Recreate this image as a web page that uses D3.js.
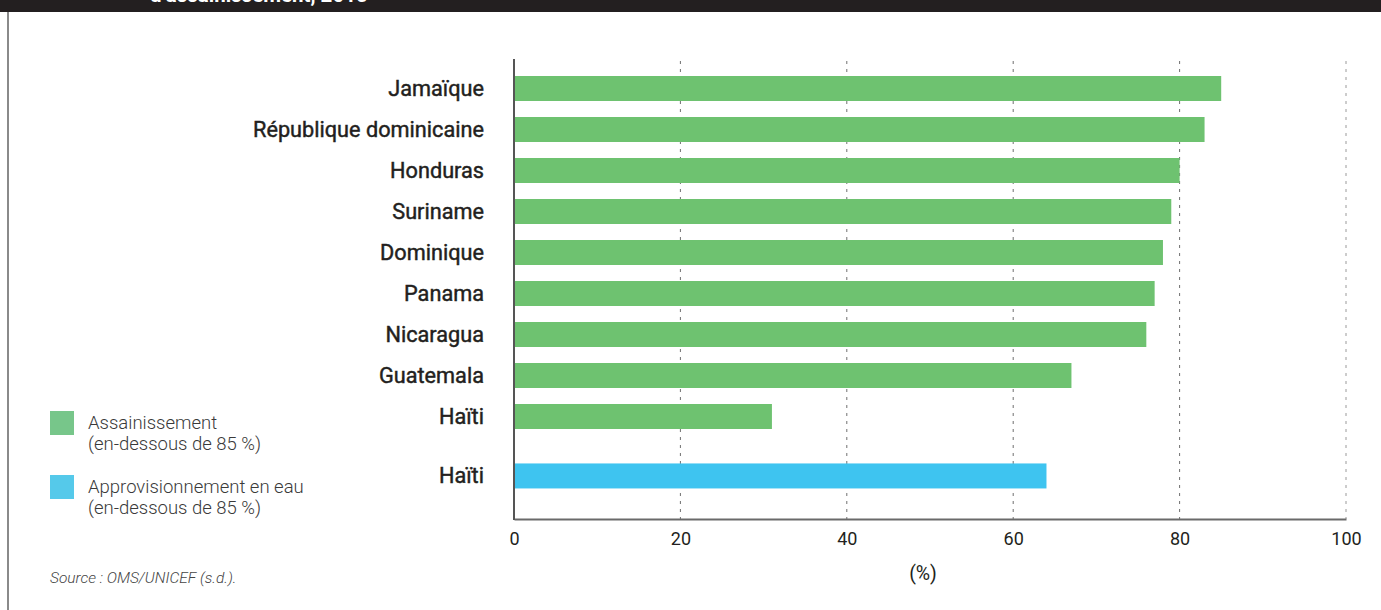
<!DOCTYPE html>
<html><head><meta charset="utf-8">
<script src="https://cdn.jsdelivr.net/npm/d3@7"></script>
<style>
html,body{margin:0;padding:0;background:#fff;}
svg{display:block;font-family:Roboto, "Noto Sans", sans-serif;}
</style></head>
<body>
<svg id="chart" width="1381" height="610"></svg>
<script>
const categories = ["Jamaïque","République dominicaine","Honduras","Suriname","Dominique","Panama","Nicaragua","Guatemala","Haïti","Haïti"];
const values = [85, 83, 80, 79, 78, 77, 76, 67, 31, 64];
const series = ["san","san","san","san","san","san","san","san","san","water"];
const rowIndex = [0,1,2,3,4,5,6,7,8,9.45];
const xTicks = [0,20,40,60,80,100];
const legendItems = [
  {key:"san", lines:["Assainissement","(en-dessous de 85 %)"]},
  {key:"water", lines:["Approvisionnement en eau","(en-dessous de 85 %)"]}
];
const barColors = {san:"#6ec270", water:"#3ec4f0"};
const legendColors = {san:"#77c68a", water:"#55c9ea"};

const svg = d3.select("#chart");

// header band
svg.append("rect").attr("x",0).attr("y",0).attr("width",1381).attr("height",12).attr("fill","#231f20");
svg.append("text").attr("x",150).attr("y",2).attr("fill","#fff")
  .attr("font-size",20.5).attr("font-weight",700).text("d’assainissement, 2015");
// left border
svg.append("line").attr("x1",8).attr("x2",8).attr("y1",12).attr("y2",610)
  .attr("stroke","#8a8a8a").attr("stroke-width",2);

const x = d3.scaleLinear().domain([0,100]).range([514,1346]);
const y = d3.scaleLinear().domain([0,1]).range([88.5,129.5]);
const barH = 25;
const plotTop = 61, plotBottom = 519;

// gridlines
svg.append("g").selectAll("line").data(xTicks.filter(d=>d>0)).join("line")
  .attr("x1",d=>x(d)).attr("x2",d=>x(d)).attr("y1",plotTop).attr("y2",plotBottom)
  .attr("stroke",d=>d===100?"#9a9a9a":"#6f6f6f").attr("stroke-width",1).attr("stroke-dasharray","3,5");

// bars
const data = categories.map((c,i)=>({c, v:values[i], s:series[i], r:rowIndex[i]}));
svg.append("g").selectAll("rect").data(data).join("rect")
  .attr("x",x(0)).attr("y",d=>y(d.r)-barH/2)
  .attr("width",d=>x(d.v)-x(0)).attr("height",barH)
  .attr("fill",d=>barColors[d.s]);

// category labels
svg.append("g").selectAll("text").data(data).join("text")
  .attr("x",484).attr("y",d=>y(d.r)+7.5).attr("text-anchor","end")
  .attr("font-size",21.7).attr("font-weight",400).attr("fill","#231f20")
  .attr("stroke","#231f20").attr("stroke-width",0.45)
  .text(d=>d.c);

// axes
const xAxis = d3.axisBottom(x).tickValues(xTicks).tickSize(0).tickPadding(9).tickFormat(d3.format("d"));
const gx = svg.append("g").attr("transform",`translate(0,${plotBottom})`).call(xAxis);
gx.select(".domain").attr("stroke","#6a6a6a").attr("stroke-width",2);
gx.selectAll(".tick text").attr("font-size",18).attr("font-family","Roboto").attr("fill","#231f20").attr("dy","0.95em");
svg.append("line").attr("x1",x(0)).attr("x2",x(0)).attr("y1",plotTop-2).attr("y2",plotBottom+1)
  .attr("stroke","#555").attr("stroke-width",2);

svg.append("text").attr("x",923).attr("y",580).attr("text-anchor","middle")
  .attr("font-size",19.5).attr("fill","#231f20").text("(%)");

// legend
const lg = svg.append("g");
legendItems.forEach((it,i)=>{
  const top = 411 + i*64;
  lg.append("rect").attr("x",50).attr("y",top).attr("width",24).attr("height",24).attr("fill",legendColors[it.key]);
  it.lines.forEach((ln,j)=>{
    lg.append("text").attr("x",88).attr("y",top+17.5+j*21.5).attr("font-size",18.5).attr("font-weight",300)
      .attr("fill","#3a3a3a").text(ln);
  });
});

svg.append("text").attr("x",50).attr("y",583).attr("font-size",15.5).attr("font-style","italic")
  .attr("font-weight",300).attr("fill","#444").text("Source : OMS/UNICEF (s.d.).");
</script>
</body></html>
